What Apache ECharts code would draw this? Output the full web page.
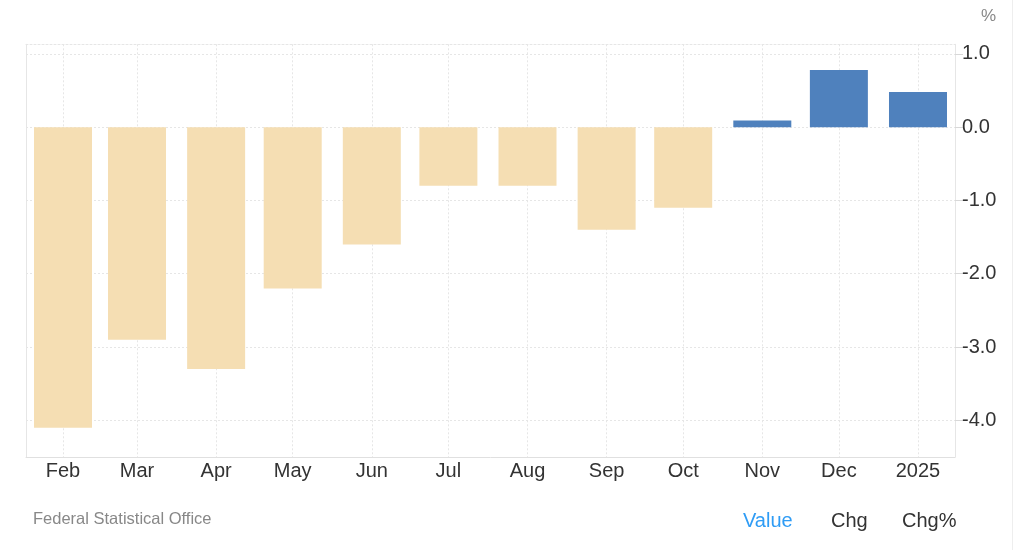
<!DOCTYPE html>
<html>
<head>
<meta charset="utf-8">
<script src="https://cdn.jsdelivr.net/npm/echarts@6/dist/echarts.min.js"></script>
<style>
html,body{margin:0;padding:0;background:#fff;}
#main{width:1024px;height:550px;}
</style>
</head>
<body>
<div id="main"></div>
<script>
const months = ['2024-02-01','2024-03-01','2024-04-01','2024-05-01','2024-06-01','2024-07-01','2024-08-01','2024-09-01','2024-10-01','2024-11-01','2024-12-01','2025-01-01'];
const values = [-4.1, -2.9, -3.3, -2.2, -1.6, -0.8, -0.8, -1.4, -1.1, 0.09, 0.78, 0.48];
const yTicks = [-4, -3, -2, -1, 0, 1];
const monthNames = ['Jan','Feb','Mar','Apr','May','Jun','Jul','Aug','Sep','Oct','Nov','Dec'];
const unitLabel = '%';
const sourceLabel = 'Federal Statistical Office';
const tabLabels = ['Value', 'Chg', 'Chg%'];

function ts(s) { const p = s.split('-').map(Number); return Date.UTC(p[0], p[1]-1, p[2]); }
const monthTs = months.map(ts);
const xMin = Date.UTC(2024, 0, 17, 12);
const xMax = Date.UTC(2025, 0, 15, 12);

const NEG = '#F5DEB3', POS = '#4F81BD';
const FONT = 'Liberation Sans, Arial, sans-serif';

const chart = echarts.init(document.getElementById('main'));
chart.setOption({
  animation: false,
  backgroundColor: '#fff',
  grid: { left: 26, right: 69, top: 44.3, bottom: 93, containLabel: false },
  xAxis: [{
    type: 'value', min: xMin, max: xMax,
    axisLine: { show: true, onZero: false, lineStyle: { color: '#e0e0e0', width: 1 } },
    axisTick: { show: false, customValues: monthTs },
    axisLabel: {
      customValues: monthTs, margin: 4, color: '#333', fontSize: 20, fontFamily: FONT,
      formatter: function (v) { const d = new Date(v); return d.getUTCMonth() === 0 ? String(d.getUTCFullYear()) : monthNames[d.getUTCMonth()]; }
    },
    splitLine: { show: true, lineStyle: { color: '#e6e6e6', type: [2, 2], width: 1 } }
  }, {
    type: 'value', min: xMin, max: xMax, position: 'top',
    axisLine: { show: true, onZero: false, lineStyle: { color: '#e6e6e6', type: [2, 2], width: 1 } },
    axisTick: { show: false }, axisLabel: { show: false }, splitLine: { show: false }
  }],
  yAxis: [{
    type: 'value', position: 'right', min: -4.5, max: 1.13,
    axisLine: { show: true, onZero: false, lineStyle: { color: '#e6e6e6', width: 1 } },
    axisTick: { show: true, customValues: yTicks, length: 8, lineStyle: { color: '#d8d8d8' } },
    axisLabel: {
      customValues: yTicks, margin: 7, color: '#333', fontSize: 20, fontFamily: FONT,
      padding: [0, 0, 7, 0],
      formatter: function (v) { return v.toFixed(1); }
    },
    splitLine: { show: true, lineStyle: { color: '#e6e6e6', type: [2, 2], width: 1 } }
  }, {
    type: 'value', position: 'left', min: -4.5, max: 1.13,
    axisLine: { show: true, onZero: false, lineStyle: { color: '#e6e6e6', width: 1 } },
    axisTick: { show: false }, axisLabel: { show: false }, splitLine: { show: false }
  }],
  series: [{
    type: 'bar', barWidth: 58, xAxisIndex: 0, yAxisIndex: 0,
    data: monthTs.map((t, i) => ({ value: [t, values[i]], itemStyle: { color: values[i] < 0 ? NEG : POS } }))
  }],
  graphic: [
    { type: 'text', left: 981, top: 8, style: { text: unitLabel, fill: '#888', font: '17px ' + FONT } },
    { type: 'text', left: 33, top: 511, style: { text: sourceLabel, fill: '#888', font: '16.5px ' + FONT } },
    { type: 'text', left: 743, top: 511, style: { text: tabLabels[0], fill: '#2f9cf5', font: '20px ' + FONT } },
    { type: 'text', left: 831, top: 511, style: { text: tabLabels[1], fill: '#333', font: '20px ' + FONT } },
    { type: 'text', left: 902, top: 511, style: { text: tabLabels[2], fill: '#333', font: '20px ' + FONT } },
    { type: 'line', shape: { x1: 1012.5, y1: 0, x2: 1012.5, y2: 550 }, style: { stroke: '#eeeeee', lineWidth: 1 } }
  ]
});
</script>
</body>
</html>
